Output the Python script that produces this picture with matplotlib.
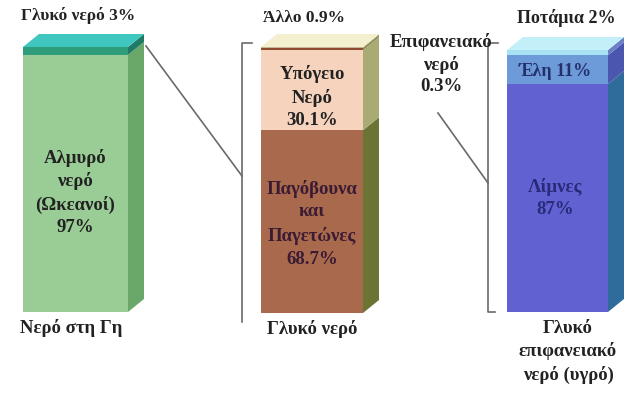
import matplotlib
matplotlib.use("Agg")
import matplotlib.pyplot as plt
from matplotlib.patches import Polygon

# Shares of each stacked column (bottom to top), in percent
earth_labels = ["Αλμυρό νερό (Ωκεανοί)", "Γλυκό νερό"]
earth_values = [97, 3]

fresh_labels = ["Παγόβουνα και Παγετώνες", "Υπόγειο Νερό", "Άλλο", "Επιφανειακό νερό"]
fresh_values = [68.7, 30.1, 0.9, 0.3]

surface_labels = ["Λίμνες", "Έλη", "Ποτάμια"]
surface_values = [87, 11, 2]

column_titles = ["Νερό στη Γη", "Γλυκό νερό", "Γλυκό\nεπιφανειακό\nνερό (υγρό)"]

W, H = 625, 394
fig = plt.figure(figsize=(W / 100, H / 100), dpi=100)
ax = fig.add_axes([0, 0, 1, 1])
ax.set_xlim(0, W)
ax.set_ylim(H, 0)
ax.axis("off")

FONT = "Liberation Serif"
DX, DY = 16, -13


def draw_column(x0, x1, y_bot, y_top, values, front, side, top):
    scale = (y_bot - y_top) / sum(values)
    y = y_bot
    bounds = []
    for v, fc, sc in zip(values, front, side):
        y_next = y - v * scale
        ax.add_patch(Polygon([(x0, y), (x1, y), (x1, y_next), (x0, y_next)],
                             closed=True, facecolor=fc, edgecolor="none"))
        ax.add_patch(Polygon([(x1, y), (x1 + DX, y + DY), (x1 + DX, y_next + DY), (x1, y_next)],
                             closed=True, facecolor=sc, edgecolor="none"))
        bounds.append((y, y_next))
        y = y_next
    ax.add_patch(Polygon([(x0, y), (x1, y), (x1 + DX, y + DY), (x0 + DX, y + DY)],
                         closed=True, facecolor=top, edgecolor="none"))
    return bounds


def label(x, y, s, size=13.5, color="#222222", ls=1.4, **kw):
    ax.text(x, y, s, ha="center", va="center", fontsize=size, family=FONT,
            fontweight="bold", color=color, linespacing=ls, **kw)


# Column 1: water on Earth
b1 = draw_column(23, 128, 312, 47, earth_values,
                 ["#9acd96", "#2f9c7c"], ["#6aa86a", "#1f7a66"], "#3ec6bf")
# Column 2: fresh water
b2 = draw_column(261, 363, 313, 47, fresh_values,
                 ["#a8694c", "#f6d3bd", "#8e4b30", "#c9b79a"],
                 ["#6c7434", "#a9ab72", "#8a8a50", "#b8b890"], "#f3efcf")
# Column 3: liquid surface fresh water
b3 = draw_column(507, 608, 312, 50, surface_values,
                 ["#6161d1", "#6d9ad8", "#a8e2f2"],
                 ["#2f6c9c", "#4b57ae", "#6b7fc6"], "#c3f0f8")

# Labels inside the columns
y_lo, y_hi = b1[0]
label(75, (y_lo + y_hi) / 2 + 9, f"Αλμυρό\nνερό\n(Ωκεανοί)\n{earth_values[0]}%")
y_lo, y_hi = b2[1]
label(312, (y_lo + y_hi) / 2 + 7, f"Υπόγειο\nΝερό\n{fresh_values[1]}%")
y_lo, y_hi = b2[0]
label(312, (y_lo + y_hi) / 2 + 2, f"Παγόβουνα\nκαι\nΠαγετώνες\n{fresh_values[0]}%",
      color="#3b1b33", ls=1.45)
y_lo, y_hi = b3[1]
label(555, (y_lo + y_hi) / 2 + 2, f"{surface_labels[1]} {surface_values[1]}%",
      size=13, color="#23306a")
y_lo, y_hi = b3[0]
label(555, (y_lo + y_hi) / 2, f"{surface_labels[0]}\n{surface_values[0]}%",
      color="#2a2a7a")

# Labels above the columns
label(78, 15, f"{earth_labels[1]} {earth_values[1]}%", size=12.5)
label(304, 18, f"{fresh_labels[2]} {fresh_values[2]}%", size=12.5)
label(566, 18, f"{surface_labels[2]} {surface_values[2]}%", size=13)
label(441, 64, f"Επιφανειακό\nνερό\n{fresh_values[3]}%", size=13.5, ls=1.35)

# Column titles
label(71, 328, column_titles[0])
label(312, 329, column_titles[1])
label(568, 352, column_titles[2])

# Connectors and brackets
lc = "#6a6a6a"
ax.plot([146, 242], [46, 176], color=lc, lw=1.2)
ax.plot([252, 242, 242], [43, 43, 322], color=lc, lw=1.2)
ax.plot([438, 488], [113, 183], color=lc, lw=1.2)
ax.plot([498, 488, 488, 495], [43, 43, 312, 312], color=lc, lw=1.2)

fig.savefig("out.png", dpi=100)
